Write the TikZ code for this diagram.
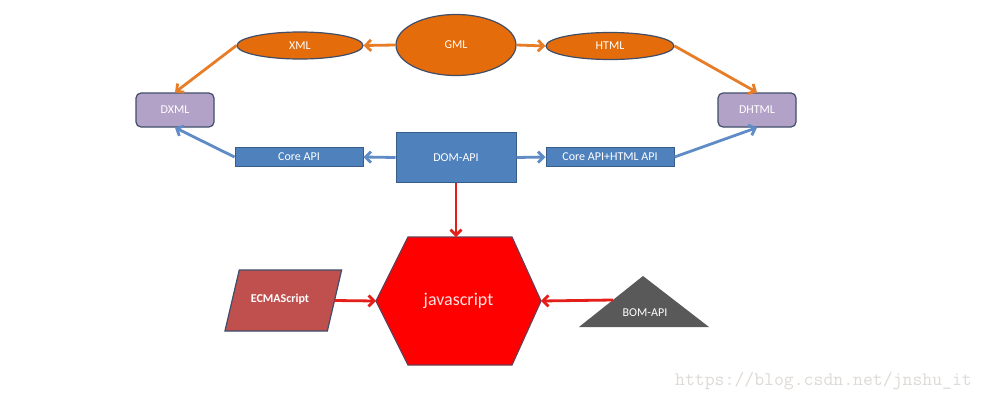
\documentclass[tikz,border=0pt]{standalone}
\usepackage{fontspec}
\setmainfont{Carlito}
\usetikzlibrary{shapes.geometric,arrows.meta,calc}
\definecolor{orfill}{RGB}{228,108,10}
\definecolor{orline}{RGB}{232,125,40}
\definecolor{outl}{RGB}{64,78,105}
\definecolor{lav}{RGB}{179,162,199}
\definecolor{bluefill}{RGB}{79,129,189}
\definecolor{blueline}{RGB}{95,140,198}
\definecolor{blueout}{RGB}{56,93,138}
\definecolor{redline}{RGB}{228,30,25}
\definecolor{redout}{RGB}{110,60,80}
\definecolor{ecmafill}{RGB}{192,80,77}
\definecolor{bomfill}{RGB}{89,89,89}
\definecolor{wmcol}{RGB}{222,218,214}
\begin{document}
\begin{tikzpicture}[x=1pt,y=-1pt,
 lbl/.style={font=\fontsize{12}{14}\selectfont, text=white},
 oval/.style={ellipse, draw=outl, line width=1.2pt, fill=orfill, lbl, inner sep=0pt},
 dbox/.style={rounded corners=5pt, draw=outl, line width=1.2pt, fill=lav, lbl, minimum width=78pt, minimum height=34pt, inner sep=0pt},
 bbox/.style={draw=blueout, line width=1pt, fill=bluefill, lbl, inner sep=0pt},
 tip/.style={-{Straight Barb[length=5.5pt,width=11pt]}},
 oarr/.style={draw=orline, line width=2.8pt, tip},
 barr/.style={draw=blueline, line width=2.8pt, tip},
 rarr/.style={draw=redline, line width=2.8pt, tip},
 plain/.style={inner sep=0pt, outer sep=0pt}
]
\useasboundingbox[fill=white] (0,0) rectangle (985,405);

% top row
\node[oval, minimum width=120pt, minimum height=61pt] (gml) at (456,45) {GML};
\node[oval, minimum width=126pt, minimum height=27pt] (xml) at (300,45.5) {XML};
\node[oval, minimum width=128pt, minimum height=27pt] (html) at (610,46) {HTML};
\node[dbox] (dxml) at (175,110) {DXML};
\node[dbox] (dhtml) at (757,110) {DHTML};

% blue row
\node[bbox, minimum width=120pt, minimum height=50pt] (dom) at (456,157.5) {DOM-API};
\node[bbox, minimum width=128pt, minimum height=19pt] (core) at (299,157) {Core API};
\node[bbox, minimum width=128pt, minimum height=19pt] (corehtml) at (610,157) {Core API+HTML API};

% hexagon
\node[plain, minimum width=165pt, minimum height=128pt] (js) at (458.5,301) {};
\draw[draw=redout, line width=1.2pt, fill=red]
  ($(js.north west)+(32,0)$) -- ($(js.north east)+(-29,0)$) -- (js.east)
  -- ($(js.south east)+(-29,0)$) -- ($(js.south west)+(32,0)$) -- (js.west) -- cycle;
\node[font=\fontsize{18}{20}\selectfont, text=white!88!red] (jstext) at (458.5,301) {javascript};

% parallelogram
\node[plain, minimum width=116.7pt, minimum height=61pt] (ecma) at (283.3,300.5) {};
\draw[draw=outl, line width=1.2pt, fill=ecmafill]
  ($(ecma.north west)+(14.3,0)$) -- (ecma.north east) -- ($(ecma.south east)+(-14.3,0)$) -- (ecma.south west) -- cycle;
\node[font=\bfseries\fontsize{12}{14}\selectfont, text=white] (ecmatext) at (280,299) {ECMAScript};
\coordinate (ecmaE) at ($(ecma.east)+(-7.2,0)$);

% triangle
\coordinate (bomtop) at (643,276);
\coordinate (bomL) at (579,327);
\coordinate (bomR) at (709,327);
\fill[bomfill] (bomtop) -- (bomR) -- (bomL) -- cycle;
\node[lbl] (bom) at (645,313) {BOM-API};
\coordinate (bomW) at (613,300);

% arrows
\draw[oarr] (gml.west) -- (xml.east);
\draw[oarr] (gml.east) -- (html.west);
\draw[oarr] (xml.west) -- (dxml.north);
\draw[oarr] (html.east) -- (dhtml.north);
\draw[barr] (dom.west) -- (core.east);
\draw[barr] (dom.east) -- (corehtml.west);
\draw[barr] (core.west) -- (dxml.south);
\draw[barr] (corehtml.east) -- (dhtml.south);
\draw[rarr] (dom.south) -- (dom.south |- js.north);
\draw[rarr] (ecmaE) -- (js.west);
\draw[rarr] (bomW) -- (js.east);

% watermark
\node[text=wmcol, font=\ttfamily\fontsize{19.2}{19}\selectfont, inner sep=0pt] (wm) at (823.5,381) {https://blog.csdn.net/jnshu\_it};
\end{tikzpicture}
\end{document}
